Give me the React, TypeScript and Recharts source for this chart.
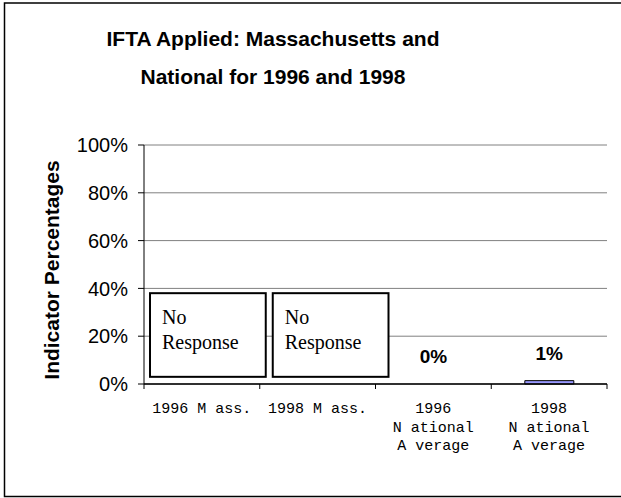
import React from 'react';
import { BarChart, Bar, XAxis, YAxis, CartesianGrid, ReferenceArea, ReferenceDot } from 'recharts';

const categories = ['1996 M ass.', '1998 M ass.', '1996 National Average', '1998 National Average'];
const tickLines = [['1996 M ass.'], ['1998 M ass.'], ['1996', 'N ational', 'A verage'], ['1998', 'N ational', 'A verage']];
const values: (number | null)[] = [null, null, 0, 1.4];
const noResponseCats = ['1996 M ass.', '1998 M ass.'];
const noResponseRange = [3, 38];
const yTicks = [0, 20, 40, 60, 80, 100];
const titleLines = ['IFTA Applied: Massachusetts and', 'National for 1996 and 1998'];

const data = categories.map((c, i) => ({ name: c, value: values[i] }));

const W = 621;
const H = 498;

const XTick = (props: any) => {
  const { x, y, payload, index, visibleTicksCount } = props;
  const off = payload && payload.offset ? payload.offset : 0;
  const lines = tickLines[index] || [String(payload.value)];
  const isLast = index === (visibleTicksCount ?? categories.length) - 1;
  return (
    <g>
      <line x1={x - off} x2={x - off} y1={y} y2={y + 5} stroke="#000" strokeWidth={1} />
      {isLast && <line x1={x + off} x2={x + off} y1={y} y2={y + 5} stroke="#000" strokeWidth={1} />}
      {lines.map((l, k) => (
        <text key={k} x={x} y={y + 29 + k * 18.5} textAnchor="middle" fontFamily="'Liberation Mono', monospace" fontSize={15} fill="#000">
          {l}
        </text>
      ))}
    </g>
  );
};

const boxShift = [6, 13];

const makeBox = (i: number) => (props: any) => {
  const { x, y, width, height } = props;
  const bx = x + boxShift[i];
  return (
    <g>
      <rect x={bx} y={y} width={width} height={height} fill="#fff" stroke="#000" strokeWidth={2} />
      <text x={bx + 12} y={y + 31} fontFamily="'Liberation Serif', serif" fontSize={20} fill="#000">No</text>
      <text x={bx + 12} y={y + 56} fontFamily="'Liberation Serif', serif" fontSize={20} fill="#000">Response</text>
    </g>
  );
};

const makeValueLabel = (v: number) => (props: any) => {
  const { cx, cy } = props;
  return (
    <text x={cx} y={cy - 21} textAnchor="middle" fontFamily="'Liberation Sans', Arial, sans-serif" fontWeight="bold" fontSize={19} fill="#000">
      {Math.round(v)}%
    </text>
  );
};

export default function App() {
  return (
    <div style={{ position: 'absolute', left: 0, top: 0, width: W, height: H, background: '#fff' }}>
      <BarChart width={W} height={H} data={data} margin={{ top: 145, right: 14, bottom: 0, left: 0 }} barCategoryGap="29%">
        <CartesianGrid horizontal vertical={false} stroke="#808080" strokeWidth={1} />
        <XAxis
          dataKey="name"
          type="category"
          height={114}
          axisLine={{ stroke: '#000', strokeWidth: 1.5 }}
          tickLine={false}
          tickSize={0}
          tickMargin={0}
          tick={<XTick />}
          interval={0}
        />
        <YAxis
          domain={[0, 100]}
          ticks={yTicks}
          width={144}
          tickFormatter={(v: number) => `${v}%`}
          axisLine={{ stroke: '#000', strokeWidth: 1 }}
          tickLine={{ stroke: '#000' }}
          tickSize={6}
          tickMargin={10}
          tick={{ fill: '#000', fontSize: 20, fontFamily: "'Liberation Sans', Arial, sans-serif" }}
          interval={0}
        />
        <YAxis
          yAxisId="right"
          orientation="right"
          domain={[0, 100]}
          width={0}
          tick={false}
          tickLine={false}
          axisLine={{ stroke: '#808080', strokeWidth: 1.5 }}
        />
        {noResponseCats.map((c, i) => (
          <ReferenceArea
            key={c}
            x1={c}
            x2={c}
            y1={noResponseRange[0]}
            y2={noResponseRange[1]}
            ifOverflow="visible"
            shape={makeBox(i)}
          />
        ))}
        <Bar dataKey="value" fill="#9999FF" stroke="#000" strokeWidth={1} isAnimationActive={false} />
        {data.map((d) =>
          d.value === null ? null : (
            <ReferenceDot key={d.name} x={d.name} y={d.value} r={0} ifOverflow="visible" shape={makeValueLabel(d.value)} />
          )
        )}
      </BarChart>
      <svg width={W} height={H} style={{ position: 'absolute', left: 0, top: 0, pointerEvents: 'none' }}>
        <rect x={4.5} y={3} width={W + 20} height={H - 4.5} fill="none" stroke="#000" strokeWidth={1.5} />
        {titleLines.map((t, k) => (
          <text key={k} x={273} y={46 + k * 38} textAnchor="middle" fontFamily="'Liberation Sans', Arial, sans-serif" fontWeight="bold" fontSize={21} fill="#000">
            {t}
          </text>
        ))}
        <text
          x={0}
          y={0}
          transform="translate(59,270) rotate(-90)"
          textAnchor="middle"
          fontFamily="'Liberation Sans', Arial, sans-serif"
          fontWeight="bold"
          fontSize={21}
          fill="#000"
        >
          Indicator Percentages
        </text>
      </svg>
    </div>
  );
}
